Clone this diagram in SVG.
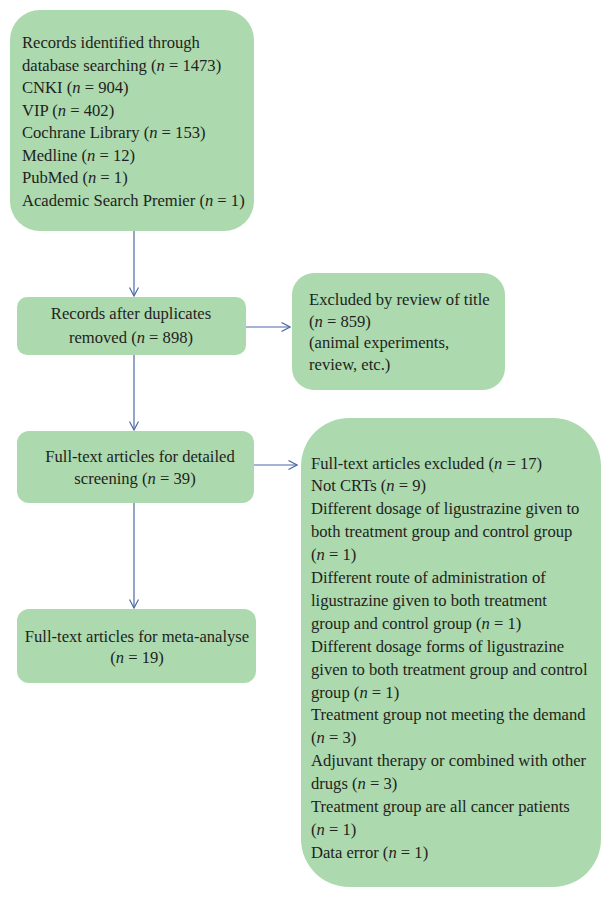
<svg xmlns="http://www.w3.org/2000/svg" width="611" height="898" viewBox="0 0 611 898">
<style>
.box{fill:#acd9ae;}
text{font-family:"Liberation Serif","Times New Roman","DejaVu Serif",serif;font-size:16.6px;fill:#231f20;}
.c{text-anchor:middle;}
.i{font-style:italic;}
.conn{stroke:#4a69a3;stroke-width:1.2;fill:none;marker-end:url(#ah);}
</style>
<defs>
<marker id="ah" viewBox="0 0 10 10" refX="9.5" refY="5" markerWidth="10" markerHeight="10" markerUnits="userSpaceOnUse" orient="auto">
<polyline points="1,0.5 9.5,5 1,9.5" fill="none" stroke="#4a69a3" stroke-width="1.2"/>
</marker>
</defs>
<rect width="611" height="898" fill="#ffffff"/>
<g id="connectors">
<line class="conn" x1="134" y1="231" x2="134" y2="296"/>
<line class="conn" x1="134" y1="355" x2="134" y2="430"/>
<line class="conn" x1="134" y1="503" x2="134" y2="608"/>
<line class="conn" x1="246" y1="327" x2="290" y2="327"/>
<line class="conn" x1="254" y1="465" x2="297" y2="465"/>
</g>
<g id="records-identified">
<rect class="box" x="10" y="10" width="244" height="221" rx="30" ry="30"/>
<text x="22" y="48">Records identified through</text>
<text x="22" y="70.5">database searching (<tspan class="i">n</tspan> = 1473)</text>
<text x="22" y="93">CNKI (<tspan class="i">n</tspan> = 904)</text>
<text x="22" y="115.5">VIP (<tspan class="i">n</tspan> = 402)</text>
<text x="22" y="138">Cochrane Library (<tspan class="i">n</tspan> = 153)</text>
<text x="22" y="160.5">Medline (<tspan class="i">n</tspan> = 12)</text>
<text x="22" y="183">PubMed (<tspan class="i">n</tspan> = 1)</text>
<text x="22" y="205.5">Academic Search Premier (<tspan class="i">n</tspan> = 1)</text>
</g>
<g id="after-duplicates">
<rect class="box" x="17" y="297" width="229" height="58" rx="10" ry="10"/>
<text class="c" x="131" y="318.5">Records after duplicates</text>
<text class="c" x="131" y="342.5">removed (<tspan class="i">n</tspan> = 898)</text>
</g>
<g id="excluded-title">
<rect class="box" x="292" y="273" width="213" height="117" rx="22" ry="22"/>
<text x="309" y="304.5">Excluded by review of title</text>
<text x="309" y="326.5">(<tspan class="i">n</tspan> = 859)</text>
<text x="309" y="348">(animal experiments,</text>
<text x="309" y="369.5">review, etc.)</text>
</g>
<g id="full-text-screening">
<rect class="box" x="17" y="431" width="237" height="72" rx="12" ry="12"/>
<text class="c" x="140" y="461.5">Full-text articles for detailed</text>
<text class="c" x="135" y="483.5">screening (<tspan class="i">n</tspan> = 39)</text>
</g>
<g id="meta-analyse">
<rect class="box" x="17" y="609" width="239" height="74" rx="12" ry="12"/>
<text class="c" x="137" y="641.5">Full-text articles for meta-analyse</text>
<text class="c" x="137" y="662.5">(<tspan class="i">n</tspan> = 19)</text>
</g>
<g id="full-text-excluded">
<rect class="box" x="301" y="418" width="300" height="469" rx="48" ry="48"/>
<text x="311" y="468.5">Full-text articles excluded (<tspan class="i">n</tspan> = 17)</text>
<text x="311" y="491.4">Not CRTs (<tspan class="i">n</tspan> = 9)</text>
<text x="311" y="514.3">Different dosage of ligustrazine given to</text>
<text x="311" y="537.2">both treatment group and control group</text>
<text x="311" y="560.1">(<tspan class="i">n</tspan> = 1)</text>
<text x="311" y="583">Different route of administration of</text>
<text x="311" y="605.9">ligustrazine given to both treatment</text>
<text x="311" y="628.8">group and control group (<tspan class="i">n</tspan> = 1)</text>
<text x="311" y="651.7">Different dosage forms of ligustrazine</text>
<text x="311" y="674.6">given to both treatment group and control</text>
<text x="311" y="697.5">group (<tspan class="i">n</tspan> = 1)</text>
<text x="311" y="720.4">Treatment group not meeting the demand</text>
<text x="311" y="743.3">(<tspan class="i">n</tspan> = 3)</text>
<text x="311" y="766.2">Adjuvant therapy or combined with other</text>
<text x="311" y="789.1">drugs (<tspan class="i">n</tspan> = 3)</text>
<text x="311" y="812">Treatment group are all cancer patients</text>
<text x="311" y="834.9">(<tspan class="i">n</tspan> = 1)</text>
<text x="311" y="857.8">Data error (<tspan class="i">n</tspan> = 1)</text>
</g>
</svg>
